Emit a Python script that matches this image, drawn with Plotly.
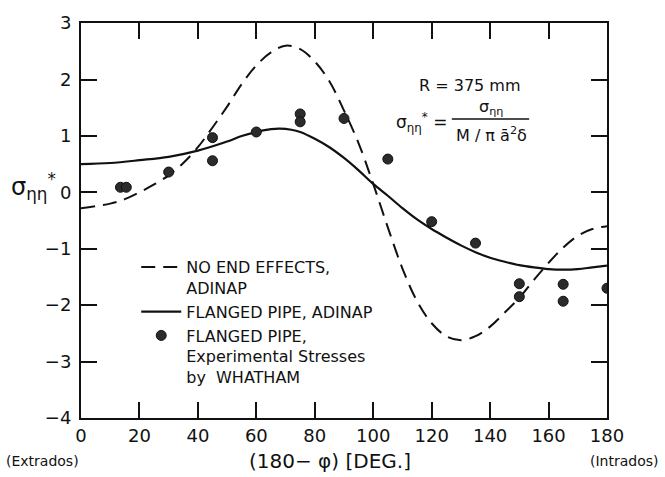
import plotly.graph_objects as go

# Analytical curves (x in degrees, y = normalized stress)
no_end_x = [0, 10, 15, 20, 25, 30, 35, 40, 45, 50, 55, 60, 65, 70, 75, 80, 85, 90, 95, 100,
            105, 110, 115, 120, 125, 130, 135, 140, 145, 150, 155, 160, 165, 170, 175, 180]
no_end_y = [-0.28, -0.2, -0.12, 0.0, 0.14, 0.3, 0.52, 0.8, 1.15, 1.52, 1.92, 2.25, 2.48, 2.6, 2.54,
            2.32, 1.97, 1.45, 0.87, 0.15, -0.62, -1.35, -1.93, -2.32, -2.55, -2.62, -2.55, -2.38,
            -2.13, -1.87, -1.55, -1.25, -0.98, -0.77, -0.65, -0.6]

flanged_x = [0, 10, 20, 30, 40, 50, 55, 60, 65, 68, 72, 75, 80, 85, 90, 95, 100, 105, 110,
             115, 120, 125, 130, 135, 140, 145, 150, 155, 160, 165, 170, 175, 180]
flanged_y = [0.5, 0.52, 0.57, 0.63, 0.74, 0.9, 1.0, 1.07, 1.12, 1.13, 1.11, 1.07, 0.95, 0.8, 0.61,
             0.39, 0.15, -0.06, -0.28, -0.48, -0.65, -0.8, -0.94, -1.06, -1.16, -1.23, -1.29,
             -1.33, -1.36, -1.37, -1.36, -1.33, -1.3]

# Experimental stresses by Whatham
exp_x = [13.5, 15.5, 30, 45, 45, 60, 75, 75, 90, 105, 120, 135, 150, 150, 165, 165, 180]
exp_y = [0.09, 0.09, 0.36, 0.97, 0.56, 1.07, 1.39, 1.25, 1.31, 0.59, -0.52, -0.9, -1.62, -1.85,
         -1.63, -1.93, -1.7]

x_ticks = [0, 20, 40, 60, 80, 100, 120, 140, 160, 180]
y_ticks = [-4, -3, -2, -1, 0, 1, 2, 3]

FONT = "DejaVu Sans"
INK = "#111111"

fig = go.Figure()
fig.add_trace(go.Scatter(
    x=no_end_x, y=no_end_y, mode="lines", line=dict(color=INK, width=2, dash="14px,8px", shape="spline"),
    name="NO END EFFECTS,<br>ADINAP"))
fig.add_trace(go.Scatter(
    x=flanged_x, y=flanged_y, mode="lines", line=dict(color=INK, width=2.2, shape="spline"),
    name="FLANGED PIPE, ADINAP"))
fig.add_trace(go.Scatter(
    x=exp_x, y=exp_y, mode="markers",
    marker=dict(size=10, color="#2b2b2b", line=dict(color="#111111", width=1)),
    name="FLANGED PIPE,<br>Experimental Stresses<br>by  WHATHAM"))

axis_common = dict(showline=True, linecolor=INK, linewidth=2, mirror="ticks", ticks="inside",
                   ticklen=16, tickwidth=1.6, tickcolor=INK, showgrid=False, zeroline=False,
                   tickfont=dict(family=FONT, size=18, color=INK))

fig.update_layout(
    width=665, height=477,
    margin=dict(l=81, r=58, t=13, b=59),
    paper_bgcolor="white", plot_bgcolor="white",
    xaxis=dict(range=[0, 180], tickvals=x_ticks, ticklabelstandoff=0, **axis_common),
    yaxis=dict(range=[-4, 3.002], tickvals=y_ticks, ticklabelstandoff=4, **axis_common),
    legend=dict(x=0.105, y=0.425, xanchor="left", yanchor="top", bgcolor="rgba(0,0,0,0)",
                valign="top", font=dict(family=FONT, size=16, color=INK), itemwidth=40,
                tracegroupgap=6),
    showlegend=True,
)

def label(x, y, text, size, xanchor="center"):
    fig.add_annotation(x=x, y=y, xref="paper", yref="paper", showarrow=False,
                       xanchor=xanchor, yanchor="middle", text=text,
                       font=dict(family=FONT, size=size, color=INK))

# Axis titles and side labels
label(-0.09, 0.585, "σ<sub>ηη</sub><sup>*</sup>", 24)
label(0.473, -0.109, "(180− φ) [DEG.]", 20)
label(-0.074, -0.109, "(Extrados)", 14)
label(1.034, -0.109, "(Intrados)", 14)

# Parameter box
label(0.740, 0.842, "R = 375 mm", 16)
label(0.700, 0.748, "σ<sub>ηη</sub><sup>*</sup> =", 17, xanchor="right")
label(0.780, 0.787, "σ<sub>ηη</sub>", 16)
label(0.780, 0.717, "M / π ā<sup>2</sup>δ", 16)
fig.add_shape(type="line", xref="paper", yref="paper", x0=0.705, x1=0.852, y0=0.757, y1=0.757,
              line=dict(color=INK, width=1.5))

fig.write_html("out.html")
